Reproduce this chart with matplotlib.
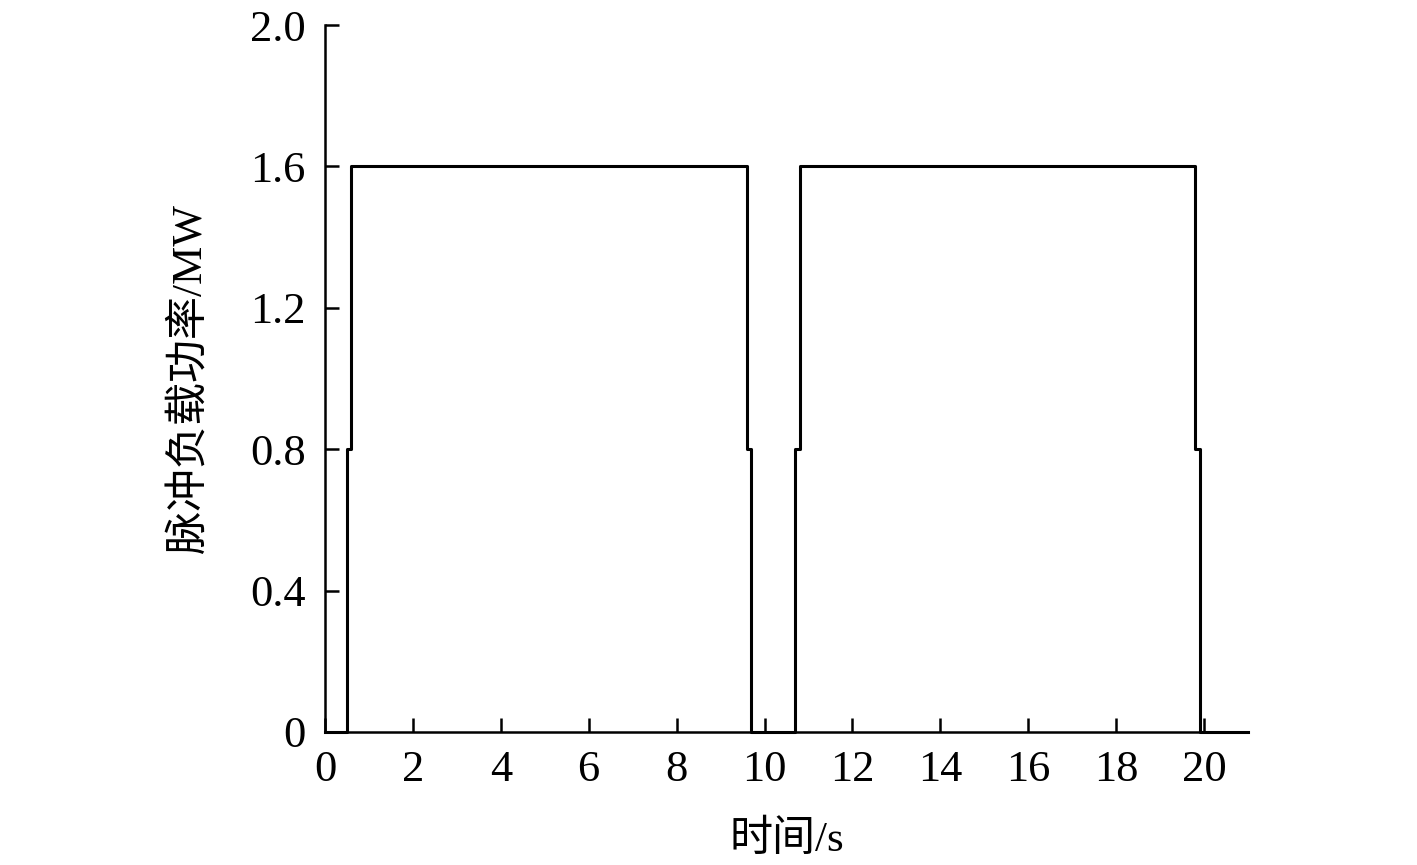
import matplotlib
matplotlib.use("Agg")
import matplotlib.pyplot as plt

plt.rcParams['font.family'] = ['Liberation Serif', 'Noto Sans CJK SC', 'DejaVu Sans']

# switching instants (s) and pulse load power levels (MW), held until next instant
times = [0, 0.5, 0.6, 9.6, 9.7, 10.7, 10.8, 19.8, 19.9, 21.0]
power = [0, 0.8, 1.6, 0.8, 0.0, 0.8, 1.6, 0.8, 0.0, 0.0]

xticks = list(range(0, 21, 2))
yticks = [0, 0.4, 0.8, 1.2, 1.6, 2.0]
ytick_labels = ['0', '0.4', '0.8', '1.2', '1.6', '2.0']

fig = plt.figure(figsize=(14.17, 8.65), dpi=100)
ax = fig.add_axes([0.2294, 0.1538, 0.6513, 0.8172])

ax.plot(times, power, drawstyle='steps-post', color='black', lw=2.2, clip_on=False)

ax.set_xlim(0, 21)
ax.set_ylim(0, 2.0)
ax.set_xticks(xticks)
ax.set_xticklabels([str(v) for v in xticks])
ax.set_yticks(yticks)
ax.set_yticklabels(ytick_labels)

for side in ('top', 'right'):
    ax.spines[side].set_visible(False)
for side in ('left', 'bottom'):
    ax.spines[side].set_linewidth(1.8)

ax.tick_params(direction='in', length=10, width=1.8, labelsize=32)
ax.tick_params(axis='x', pad=13)
ax.tick_params(axis='y', pad=14)

ax.set_xlabel('时间/s', fontsize=31, labelpad=22)
ax.set_ylabel('脉冲负载功率/MW', fontsize=31, labelpad=28)

fig.savefig('out.png', dpi=100)
